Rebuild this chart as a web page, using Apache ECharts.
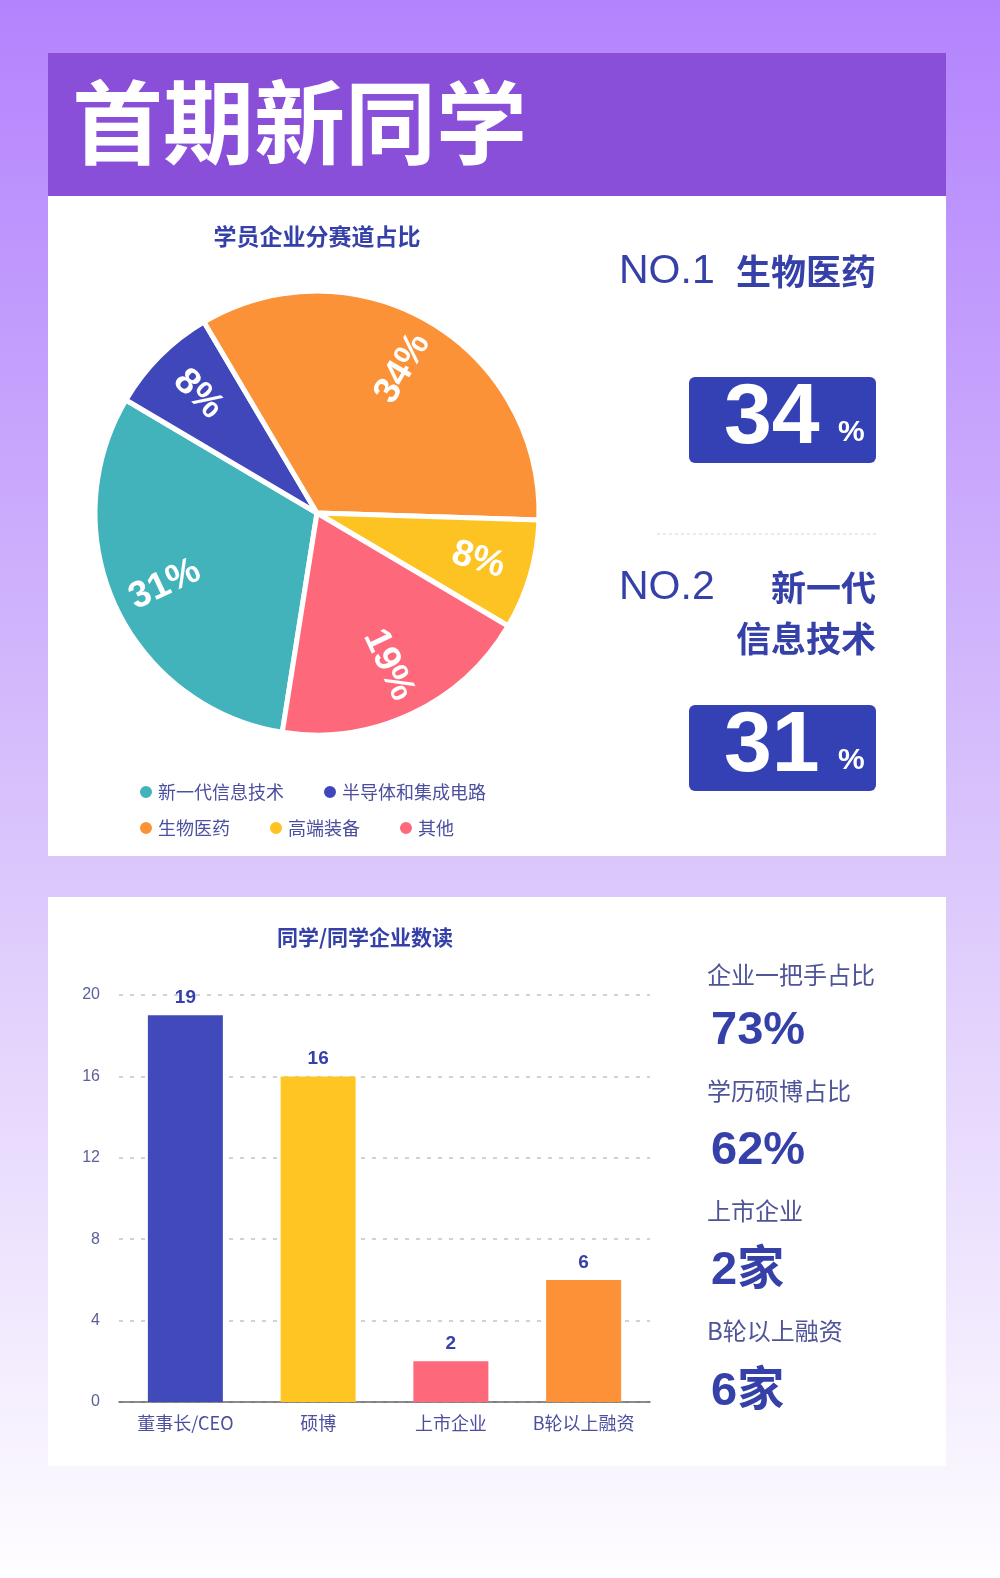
<!DOCTYPE html>
<html>
<head>
<meta charset="utf-8">
<script src="https://cdn.jsdelivr.net/npm/echarts@6/dist/echarts.min.js"></script>
<style>
html,body{margin:0;padding:0;}
#c{width:1000px;height:1578px;}
</style>
</head>
<body>
<div id="c"></div>
<script>
// ---- data ----
const pageTitle = '首期新同学';
const pieTitle = '学员企业分赛道占比';
const pieNames = ['新一代信息技术', '半导体和集成电路', '生物医药', '高端装备', '其他'];
const pieValues = [31, 8, 34, 8, 19];
const pieColors = ['#43b3bb', '#3f47ba', '#fc9238', '#fdc323', '#fe687b'];
const rankLabels = ['NO.1', 'NO.2'];
const rankNameLines = [['生物医药'], ['新一代', '信息技术']];
const rankValues = [34, 31];

const barTitle = '同学/同学企业数读';
const barCategories = ['董事长/CEO', '硕博', '上市企业', 'B轮以上融资'];
const barValues = [19, 16, 2, 6];
const barColors = ['#404aba', '#fec523', '#fe687b', '#fc9137'];
const yTicks = [0, 4, 8, 12, 16, 20];

const statLabels = ['企业一把手占比', '学历硕博占比', '上市企业', 'B轮以上融资'];
const statValues = ['73%', '62%', '2家', '6家'];

// ---- styles / layout ----
const CJK = '"Noto Sans CJK SC", sans-serif';
const LAT = '"Liberation Sans", "Noto Sans CJK SC", sans-serif';
const DARK = '#3541a8';
const TXT = '#4b4f9e';
const statLabelY = [975, 1091, 1211, 1331];
const statValueY = [1031, 1151, 1271, 1392];

const chart = echarts.init(document.getElementById('c'), null, {renderer: 'canvas'});

const graphics = [];
graphics.push({type: 'rect', z: 0, shape: {x: 48, y: 53, width: 898, height: 143}, style: {fill: '#8a4fd9'}});
graphics.push({type: 'rect', z: 0, shape: {x: 48, y: 196, width: 898, height: 660}, style: {fill: '#ffffff'}});
graphics.push({type: 'rect', z: 0, shape: {x: 48, y: 897, width: 898, height: 569}, style: {fill: '#ffffff'}});
graphics.push({type: 'text', z: 10, style: {text: pageTitle, x: 72, y: 122, font: 'bold 91px ' + CJK, fill: '#ffffff', align: 'left', verticalAlign: 'middle'}});
graphics.push({type: 'text', z: 10, style: {text: pieTitle, x: 317, y: 236, font: 'bold 23px ' + CJK, fill: DARK, align: 'center', verticalAlign: 'middle'}});
graphics.push({type: 'text', z: 10, style: {text: barTitle, x: 365, y: 937, font: 'bold 21px ' + CJK, fill: DARK, align: 'center', verticalAlign: 'middle'}});

const rankY = [272, 588];
const boxY = [377, 705];
rankLabels.forEach((lab, i) => {
  graphics.push({type: 'text', z: 10, style: {text: lab, x: 619, y: rankY[i], font: '300 41px ' + LAT, fill: DARK, align: 'left', verticalAlign: 'middle'}});
  rankNameLines[i].forEach((ln, j) => {
    graphics.push({type: 'text', z: 10, style: {text: ln, x: 876, y: rankY[i] + j * 51, font: 'bold 35px ' + CJK, fill: DARK, align: 'right', verticalAlign: 'middle'}});
  });
  graphics.push({type: 'rect', z: 5, shape: {x: 689, y: boxY[i], width: 187, height: 86, r: 6}, style: {fill: '#3441b5'}});
  graphics.push({type: 'text', z: 10, style: {text: String(rankValues[i]), x: 724, y: boxY[i] + 42, font: 'bold 86px ' + LAT, fill: '#ffffff', align: 'left', verticalAlign: 'middle'}});
  graphics.push({type: 'text', z: 10, style: {text: '%', x: 838, y: boxY[i] + 56, font: 'bold 30px ' + LAT, fill: '#ffffff', align: 'left', verticalAlign: 'middle'}});
});
graphics.push({type: 'line', z: 10, shape: {x1: 657, y1: 534, x2: 877, y2: 534}, style: {stroke: '#d4d4d4', lineWidth: 1, lineDash: [3, 3]}});

statLabels.forEach((lab, i) => {
  graphics.push({type: 'text', z: 10, style: {text: lab, x: 707, y: statLabelY[i], font: '24px ' + CJK, fill: '#4f5398', align: 'left', verticalAlign: 'middle'}});
  graphics.push({type: 'text', z: 10, style: {text: statValues[i], x: 711, y: statValueY[i], font: 'bold 47px ' + LAT, fill: DARK, align: 'left', verticalAlign: 'middle'}});
});

const pieData = pieNames.map((n, i) => ({name: n, value: pieValues[i], itemStyle: {color: pieColors[i]}}));

const legendCommon = {
  orient: 'horizontal', icon: 'circle', itemWidth: 14, itemHeight: 14, itemGap: 38,
  textStyle: {fontSize: 18, color: TXT, fontFamily: CJK}, selectedMode: false
};

const option = {
  backgroundColor: new echarts.graphic.LinearGradient(0, 0, 0, 1, [
    {offset: 0, color: '#b383fd'},
    {offset: 0.56, color: '#dcc8fc'},
    {offset: 1, color: '#fefdff'}
  ]),
  animation: false,
  graphic: graphics,
  legend: [
    Object.assign({left: 133, top: 778, data: pieNames.slice(0, 2)}, legendCommon),
    Object.assign({left: 133, top: 814, data: pieNames.slice(2)}, legendCommon)
  ],
  grid: {left: 119, right: 350, top: 995, bottom: 176, containLabel: false},
  xAxis: {
    type: 'category', data: barCategories,
    axisLine: {lineStyle: {color: '#666', width: 1.5}},
    axisTick: {show: false},
    axisLabel: {fontSize: 18, color: TXT, fontFamily: CJK, margin: 12}
  },
  yAxis: {
    type: 'value', min: yTicks[0], max: yTicks[yTicks.length - 1], interval: yTicks[1] - yTicks[0],
    axisLine: {show: false}, axisTick: {show: false},
    axisLabel: {fontSize: 16, color: '#5c6099', fontFamily: LAT, margin: 19},
    splitLine: {lineStyle: {color: '#c4c4c4', type: [4, 7], width: 1.5}}
  },
  series: [
    {
      type: 'pie', center: [317, 513], radius: [0, 222], startAngle: -99,
      data: pieData, label: {show: false}, labelLine: {show: false},
      itemStyle: {borderColor: '#ffffff', borderWidth: 5},
      silent: true, z: 3
    },
    {
      type: 'pie', center: [317, 513], radius: [108, 222], startAngle: -99,
      data: pieNames.map((n, i) => ({name: n, value: pieValues[i], itemStyle: {color: 'rgba(0,0,0,0)'}})),
      label: {show: true, position: 'inside', rotate: 'radial', formatter: '{c}%', color: '#ffffff', fontSize: 37, fontWeight: 'bold', fontFamily: LAT},
      labelLine: {show: false}, silent: true, z: 4
    },
    {
      type: 'bar', data: barValues.map((v, i) => ({value: v, itemStyle: {color: barColors[i]}})),
      barWidth: 75,
      label: {show: true, position: 'top', distance: 8, fontSize: 19, fontWeight: 'bold', color: DARK, fontFamily: LAT},
      z: 3
    }
  ]
};
chart.setOption(option);
</script>
</body>
</html>
